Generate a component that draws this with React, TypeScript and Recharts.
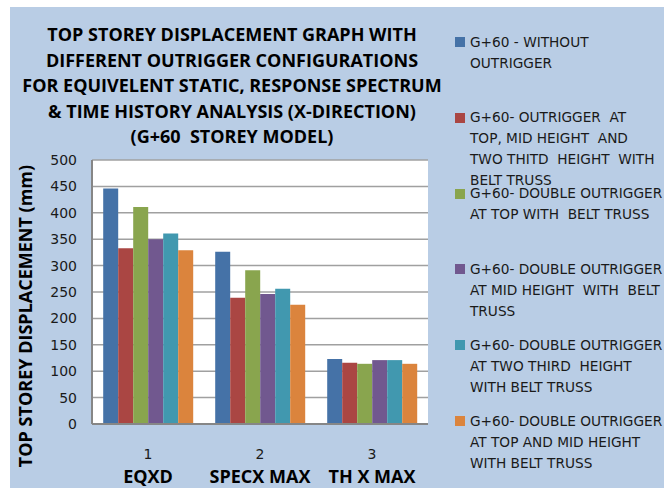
import React from 'react';
import { BarChart, Bar, XAxis, YAxis, CartesianGrid, Legend } from 'recharts';

const categories = ['EQXD', 'SPECX MAX', 'TH X MAX'];
const tickNumbers = ['1', '2', '3'];
const withoutOutrigger = [446, 326, 123];
const outriggerTopMidTwoThird = [333, 239, 116];
const doubleTop = [411, 291, 114];
const doubleMid = [350, 246, 121];
const doubleTwoThird = [361, 256, 121];
const doubleTopMid = [329, 226, 114];
const yTicks = [0, 50, 100, 150, 200, 250, 300, 350, 400, 450, 500];

const titleLines = [
  'TOP STOREY DISPLACEMENT GRAPH WITH',
  'DIFFERENT OUTRIGGER CONFIGURATIONS',
  'FOR EQUIVELENT STATIC, RESPONSE SPECTRUM',
  '& TIME HISTORY ANALYSIS (X-DIRECTION)',
  '(G+60  STOREY MODEL)',
];
const yTitle = 'TOP STOREY DISPLACEMENT (mm)';

const seriesKeys = ['s1', 's2', 's3', 's4', 's5', 's6'];
const seriesValues = [withoutOutrigger, outriggerTopMidTwoThird, doubleTop, doubleMid, doubleTwoThird, doubleTopMid];
const seriesColors = ['#4572A7', '#AA4643', '#89A54E', '#71588F', '#4198AF', '#DB843D'];
const legendLines = [
  ['G+60 - WITHOUT', 'OUTRIGGER'],
  ['G+60- OUTRIGGER  AT', 'TOP, MID HEIGHT  AND', 'TWO THITD  HEIGHT  WITH', 'BELT TRUSS'],
  ['G+60- DOUBLE OUTRIGGER', 'AT TOP WITH  BELT TRUSS'],
  ['G+60- DOUBLE OUTRIGGER', 'AT MID HEIGHT  WITH  BELT', 'TRUSS'],
  ['G+60- DOUBLE OUTRIGGER', 'AT TWO THIRD  HEIGHT', 'WITH BELT TRUSS'],
  ['G+60- DOUBLE OUTRIGGER', 'AT TOP AND MID HEIGHT', 'WITH BELT TRUSS'],
];

const data = categories.map((c, i) => {
  const row: any = { name: c, num: tickNumbers[i] };
  seriesKeys.forEach((k, j) => {
    row[k] = seriesValues[j][i];
  });
  return row;
});

const BOLD_FONT = '"Open Sans", sans-serif';
const TEXT_FONT = '"DejaVu Sans", sans-serif';

const XTick = (props: any) => {
  const { x, y, payload, index } = props;
  return (
    <g>
      <text x={x} y={y + 27} textAnchor="middle" fontFamily={TEXT_FONT} fontSize={14} fill="#1a1a1a">
        {tickNumbers[index]}
      </text>
      <text x={x} y={y + 51} textAnchor="middle" fontFamily={BOLD_FONT} fontWeight="bold" fontSize={18} fill="#000">
        {payload.value}
      </text>
    </g>
  );
};

const YTitle = () => (
  <text
    x={15}
    y={309}
    transform="rotate(-90 15 309)"
    textAnchor="middle"
    dominantBaseline="central"
    fontFamily={BOLD_FONT}
    fontWeight="bold"
    fontSize={18}
    fill="#000"
  >
    {yTitle}
  </text>
);

const renderLegend = () => {
  return (
    <div style={{ position: 'relative', width: 209, height: 0 }}>
      {seriesKeys.map((k, i) => (
        <div key={k} style={{ position: 'absolute', left: 0, top: 35 + 75.8 * i - 10.5 }}>
          <div style={{ position: 'absolute', left: 0, top: 5.5, width: 10, height: 10, background: seriesColors[i] }} />
          {legendLines[i].map((ln, j) => (
            <div
              key={j}
              style={{
                position: 'absolute',
                left: 15,
                top: j * 21,
                height: 21,
                lineHeight: '21px',
                whiteSpace: 'pre',
                fontFamily: TEXT_FONT,
                fontSize: 13.7,
                color: '#1a1a1a',
              }}
            >
              {ln}
            </div>
          ))}
        </div>
      ))}
    </div>
  );
};

export default function App() {
  return (
    <div
      style={{
        position: 'absolute',
        left: 10,
        top: 7,
        width: 654,
        height: 481,
        background: '#B9CDE5',
        overflow: 'hidden',
      }}
    >
      <div style={{ position: 'absolute', left: 0, top: 15, width: 444, textAlign: 'center', zIndex: 2 }}>
        {titleLines.map((t, i) => (
          <div
            key={i}
            style={{
              height: 25.6,
              lineHeight: '25.6px',
              whiteSpace: 'pre',
              fontFamily: BOLD_FONT,
              fontWeight: 'bold',
              fontSize: 18,
              color: '#000',
            }}
          >
            {t}
          </div>
        ))}
      </div>
      <BarChart
        width={654}
        height={481}
        data={data}
        margin={{ top: 153, right: 236, left: 0, bottom: 0 }}
        barCategoryGap="10%"
        barGap={0}
      >
        <CartesianGrid vertical={false} stroke="#A0A0A0" strokeWidth={1.5} fill="#FFFFFF" />
        <XAxis
          dataKey="name"
          height={64}
          tickLine={false}
          axisLine={{ stroke: '#868686', strokeWidth: 2 }}
          tick={<XTick />}
          interval={0}
        />
        <YAxis
          width={82}
          domain={[0, 500]}
          ticks={yTicks}
          tickLine={false}
          tickSize={6}
          tickMargin={9}
          axisLine={{ stroke: '#868686', strokeWidth: 2 }}
          tick={{ fontFamily: TEXT_FONT, fontSize: 14, fill: '#1a1a1a' }}
          label={<YTitle />}
        />
        <Legend
          content={renderLegend}
          wrapperStyle={{ position: 'absolute', left: 445, top: 0, width: 209, height: 0, overflow: 'visible' }}
        />
        {seriesKeys.map((k, j) => (
          <Bar key={k} dataKey={k} name={legendLines[j].join(' ')} fill={seriesColors[j]} isAnimationActive={false} />
        ))}
      </BarChart>
    </div>
  );
}
